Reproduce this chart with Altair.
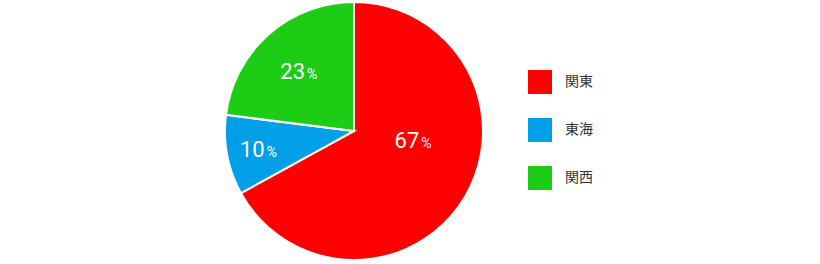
import altair as alt
import pandas as pd
import math

regions = ["関東", "東海", "関西"]
shares = [67, 10, 23]
colors = ["#FF0000", "#009FE8", "#1DCC14"]

df = pd.DataFrame({"region": regions, "share": shares, "order": [0, 1, 2]})
df["pct"] = "%"

CX, CY, R = 354, 131, 129

pie = alt.Chart(df).mark_arc(outerRadius=R, stroke="white", strokeWidth=2).encode(
    theta=alt.Theta("share:Q", stack=True),
    order=alt.Order("order:Q"),
    color=alt.Color(
        "region:N",
        sort=regions,
        scale=alt.Scale(domain=regions, range=colors),
        legend=alt.Legend(
            title=None,
            orient="none",
            legendX=528,
            legendY=70,
            symbolType="square",
            symbolSize=576,
            symbolStrokeWidth=0,
            symbolOpacity=1,
            rowPadding=24,
            labelOffset=13,
            labelFontSize=14,
            labelFont="Noto Sans CJK JP",
            labelColor="#333333",
            padding=0,
        ),
    ),
    x=alt.value(CX),
    y=alt.value(CY),
)

labels = (
    alt.Chart(df)
    .transform_window(cum="sum(share)", sort=[alt.SortField("order")])
    .transform_joinaggregate(total="sum(share)")
    .transform_calculate(
        mid="(datum.cum - datum.share / 2) / datum.total + (datum.share > 50 ? -0.062 : 0)",
        lr="datum.share > 50 ? 62 : (datum.share > 15 ? 80 : 95)",
    )
)

theta_enc = alt.Theta("mid:Q", stack=None, scale=alt.Scale(domain=[0, 1], range=[0, 2 * math.pi]))

num = labels.mark_text(
    font="Roboto", fontSize=22, color="white", align="right", baseline="alphabetic", dx=4, dy=8
).encode(text="share:Q", theta=theta_enc, radius=alt.Radius("lr:Q", scale=None), x=alt.value(CX), y=alt.value(CY))

pct = labels.mark_text(
    font="Roboto", fontSize=14, color="white", align="left", baseline="alphabetic", dx=6, dy=8
).encode(text="pct:N", theta=theta_enc, radius=alt.Radius("lr:Q", scale=None), x=alt.value(CX), y=alt.value(CY))

chart = (
    alt.layer(pie, num, pct)
    .resolve_scale(theta="independent")
    .properties(width=820, height=264, autosize=alt.AutoSizeParams(type="none"), padding=0)
    .configure_view(stroke=None)
)

chart.save("out.html", embed_options={"renderer": "svg", "actions": False})
